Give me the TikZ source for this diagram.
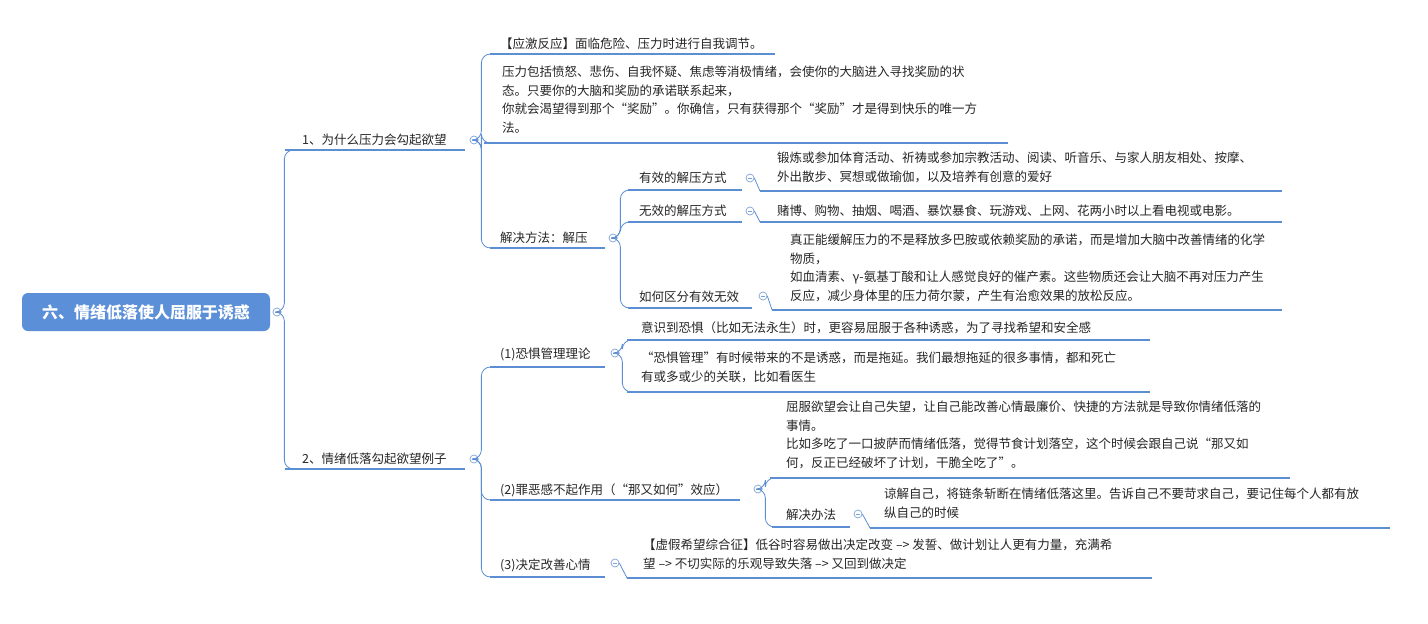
\documentclass[tikz,border=0pt]{standalone}
\usepackage{fontspec}
\setmainfont{Noto Sans CJK SC}
\begin{document}
\begin{tikzpicture}[x=1pt,y=-1pt,
  txt/.style={font=\fontsize{12.5}{18.5}\selectfont,inner sep=0pt,align=left,text=black!85},
  bar/.style={draw=lineblue,line width=2.6pt},
  conn/.style={draw=lineblue,line width=0.8pt,rounded corners=9pt},
  fold/.style={circle,draw=foldc,line width=0.7pt,minimum size=8pt,inner sep=0pt,
     path picture={\draw[foldc,line width=0.7pt] ([xshift=-2pt]path picture bounding box.center)--([xshift=2pt]path picture bounding box.center);}}]
\definecolor{lineblue}{HTML}{5B8ED3}
\definecolor{foldc}{HTML}{7FA3D6}
\definecolor{rootc}{HTML}{5B8FD8}
\useasboundingbox[fill=white] (0,0) rectangle (1428,624);
% root
\node[fill=rootc,rounded corners=6pt,minimum width=248pt,minimum height=38pt,text=white,font=\fontsize{16}{18}\selectfont\bfseries] (root) at (146,312) {六、情绪低落使人屈服于诱惑};
\node[fold] (f0) at (277,312) {};
% level 1
\node[txt,anchor=west] (b1) at (302,140) {1、为什么压力会勾起欲望};
\draw[bar] (285,150) coordinate (b1s) -- (465,150);
\node[fold] (f1) at (474,140) {};
\node[txt,anchor=west] (b2) at (302,459) {2、情绪低落勾起欲望例子};
\draw[bar] (285,469) coordinate (b2s) -- (465,469);
\node[fold] (f2) at (474,459) {};
\draw[conn] (f0.east) -- ++(3,0) |- (b1s);
\draw[conn] (f0.east) -- ++(3,0) |- (b2s);
% branch 1 children
\node[txt,anchor=west] (c11) at (500,44) {【应激反应】面临危险、压力时进行自我调节。};
\draw[bar] (490,54) coordinate (c11s) -- (775,54);
\node[txt,anchor=north west] (c12) at (502,66) {压力包括愤怒、悲伤、自我怀疑、焦虑等消极情绪，会使你的大脑进入寻找奖励的状\\态。只要你的大脑和奖励的承诺联系起来，\\你就会渴望得到那个“奖励”。你确信，只有获得那个“奖励”才是得到快乐的唯一方\\法。};
\draw[bar] (484,143) coordinate (c12s) -- (1008,143);
\node[txt,anchor=west] (c13) at (500,238) {解决方法：解压};
\draw[bar] (490,248) coordinate (c13s) -- (605,248);
\node[fold] (f13) at (613,238) {};
\draw[conn] (f1.east) -- ++(3,0) |- (c11s);
\draw[conn] (f1.east) -- ++(3,0) |- (c12s);
\draw[conn] (f1.east) -- ++(3,0) |- (c13s);
% jieya children
\node[txt,anchor=west] (d1) at (639,178) {有效的解压方式};
\draw[bar] (628,190) coordinate (d1s) -- (742,190);
\node[fold] (fd1) at (750,178) {};
\node[txt,anchor=north west] (d1t) at (777,152) {锻炼或参加体育活动、祈祷或参加宗教活动、阅读、听音乐、与家人朋友相处、按摩、\\外出散步、冥想或做瑜伽，以及培养有创意的爱好};
\draw[bar] (760,191) coordinate (d1ts) -- (1282,191);
\node[txt,anchor=west] (d2) at (639,211) {无效的解压方式};
\draw[bar] (628,222) coordinate (d2s) -- (742,222);
\node[fold] (fd2) at (750,211) {};
\node[txt,anchor=west] (d2t) at (777,211) {赌博、购物、抽烟、喝酒、暴饮暴食、玩游戏、上网、花两小时以上看电视或电影。};
\draw[bar] (760,222) coordinate (d2ts) -- (1282,222);
\node[txt,anchor=west] (d3) at (639,297) {如何区分有效无效};
\draw[bar] (628,308) coordinate (d3s) -- (752,308);
\node[fold] (fd3) at (763,296) {};
\node[txt,anchor=north west] (d3t) at (790,234) {真正能缓解压力的不是释放多巴胺或依赖奖励的承诺，而是增加大脑中改善情绪的化学\\物质，\\如血清素、γ-氨基丁酸和让人感觉良好的催产素。这些物质还会让大脑不再对压力产生\\反应，减少身体里的压力荷尔蒙，产生有治愈效果的放松反应。};
\draw[bar] (772,310) coordinate (d3ts) -- (1282,310);
\draw[conn] (f13.east) -- ++(3,0) |- (d1s);
\draw[conn] (f13.east) -- ++(3,0) |- (d2s);
\draw[conn] (f13.east) -- ++(3,0) |- (d3s);
\draw[conn] (fd1.east) -- (d1ts);
\draw[conn] (fd2.east) -- (d2ts);
\draw[conn] (fd3.east) -- (d3ts);
% branch 2 children
\node[txt,anchor=west] (e1) at (500,354) {(1)恐惧管理理论};
\draw[bar] (490,367) coordinate (e1s) -- (605,367);
\node[fold] (fe1) at (615,353) {};
\node[txt,anchor=west] (e1a) at (641,328) {意识到恐惧（比如无法永生）时，更容易屈服于各种诱惑，为了寻找希望和安全感};
\draw[bar] (627,340) coordinate (e1as) -- (1150,340);
\node[txt,anchor=north west] (e1b) at (641,352) {“恐惧管理”有时候带来的不是诱惑，而是拖延。我们最想拖延的很多事情，都和死亡\\有或多或少的关联，比如看医生};
\draw[bar] (627,392) coordinate (e1bs) -- (1150,392);
\draw[conn] (fe1.east) -- ++(3,0) |- (e1as);
\draw[conn] (fe1.east) -- ++(3,0) |- (e1bs);
\node[txt,anchor=west] (e2) at (500,490) {(2)罪恶感不起作用（“那又如何”效应）};
\draw[bar] (490,500) coordinate (e2s) -- (740,500);
\node[fold] (fe2) at (758,489) {};
\node[txt,anchor=north west] (e2a) at (786,401) {屈服欲望会让自己失望，让自己能改善心情最廉价、快捷的方法就是导致你情绪低落的\\事情。\\比如多吃了一口披萨而情绪低落，觉得节食计划落空，这个时候会跟自己说“那又如\\何，反正已经破坏了计划，干脆全吃了”。};
\draw[bar] (770,478) coordinate (e2as) -- (1290,478);
\node[txt,anchor=west] (e2b) at (786,515) {解决办法};
\draw[bar] (772,527) coordinate (e2bs) -- (850,527);
\node[fold] (fe2b) at (858,514) {};
\node[txt,anchor=north west] (e2c) at (884,488) {谅解自己，将链条斩断在情绪低落这里。告诉自己不要苛求自己，要记住每个人都有放\\纵自己的时候};
\draw[bar] (870,528) coordinate (e2cs) -- (1390,528);
\draw[conn] (fe2.east) -- ++(3,0) |- (e2as);
\draw[conn] (fe2.east) -- ++(3,0) |- (e2bs);
\draw[conn] (fe2b.east) -- (e2cs);
\node[txt,anchor=west] (e3) at (500,565) {(3)决定改善心情};
\draw[bar] (490,577) coordinate (e3s) -- (605,577);
\node[fold] (fe3) at (615,563) {};
\node[txt,anchor=north west] (e3a) at (643,539) {【虚假希望综合征】低谷时容易做出决定改变 --> 发誓、做计划让人更有力量，充满希\\望 --> 不切实际的乐观导致失落 --> 又回到做决定};
\draw[bar] (627,578) coordinate (e3as) -- (1152,578);
\draw[conn] (fe3.east) -- (e3as);
\draw[conn] (f2.east) -- ++(3,0) |- (e1s);
\draw[conn] (f2.east) -- ++(3,0) |- (e2s);
\draw[conn] (f2.east) -- ++(3,0) |- (e3s);
\end{tikzpicture}
\end{document}
